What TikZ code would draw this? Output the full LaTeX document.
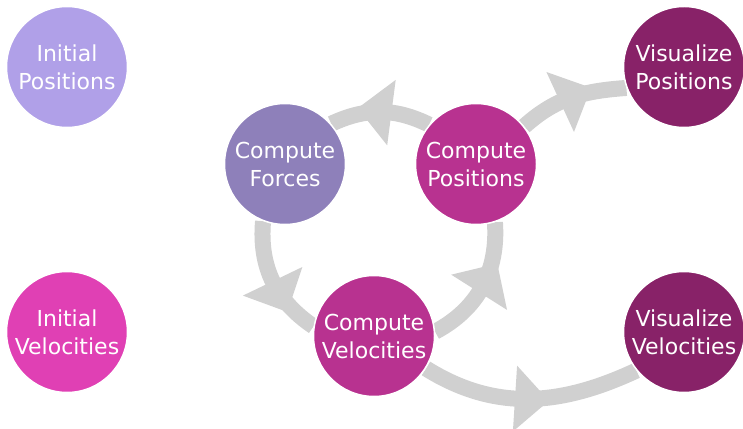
\documentclass[tikz,border=0pt]{standalone}
\usepackage{fontspec}
\setmainfont{DejaVu Sans}
\usetikzlibrary{decorations.markings,backgrounds}
\definecolor{flowgray}{HTML}{D0D0D0}
\definecolor{initpos}{HTML}{B0A0E8}
\definecolor{initvel}{HTML}{E040B4}
\definecolor{forcecol}{HTML}{8E80BA}
\definecolor{computecol}{HTML}{B83290}
\definecolor{viscol}{HTML}{882268}

\begin{document}
\begin{tikzpicture}[
  x=1pt,y=1pt,
  stage/.style={circle,draw=white,line width=1.5pt,minimum size=121pt,inner sep=0pt,
    text=white,align=center,font=\fontsize{22}{28}\selectfont},
  flow/.style={draw=flowgray,line width=16pt,postaction={decorate},
    decoration={markings,mark=at position #1 with
      {\fill[flowgray] (0,33) -- (34,0) -- (0,-33) -- cycle;}}},
  flow/.default=0.4]
\useasboundingbox (0,0) rectangle (743,428);
\node[stage,fill=initpos] (ipos) at (67,361) {Initial\\Positions};
\node[stage,fill=initvel] (ivel) at (67,96) {Initial\\Velocities};
\node[stage,fill=forcecol] (cfor) at (285,264) {Compute\\Forces};
\node[stage,fill=computecol] (cpos) at (476,264) {Compute\\Positions};
\node[stage,fill=computecol] (cvel) at (374,92) {Compute\\Velocities};
\node[stage,fill=viscol] (vpos) at (684,361) {Visualize\\Positions};
\node[stage,fill=viscol] (vvel) at (684,96) {Visualize\\Velocities};
\begin{scope}[on background layer]
\draw[flow=0.39] (cpos.140) to[out=154,in=25] (cfor.41);
\draw[flow=0.5] (cfor.249) to[out=265,in=146] (cvel.171);
\draw[flow=0.45] (cvel.4) to[out=28,in=274] (cpos.288);
\draw[flow=0.39] (cpos.38) to[out=42,in=184] (vpos.200);
\draw[flow=0.43] (cvel.-32) to[out=-32,in=205] (vvel.219);
\end{scope}
\end{tikzpicture}
\end{document}
